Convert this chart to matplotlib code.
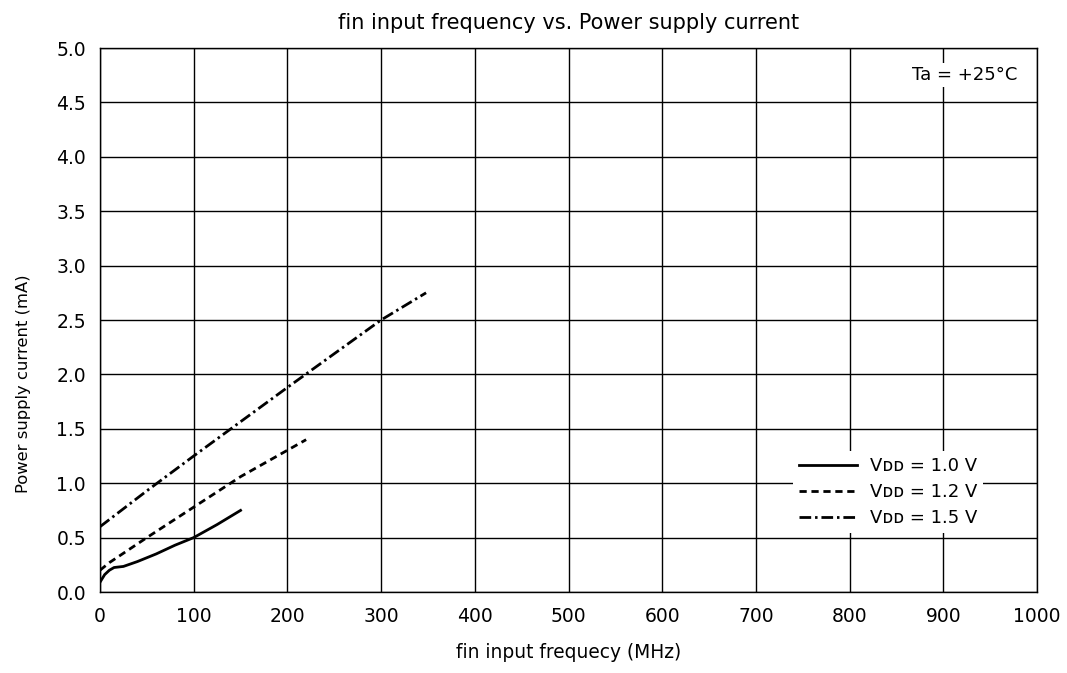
import matplotlib
matplotlib.use("Agg")
import matplotlib.pyplot as plt

plt.rcParams['font.family'] = ['DejaVu Sans']

# Data
f_10 = [0, 5, 10, 15, 25, 40, 60, 80, 100, 125, 150]
i_10 = [0.09, 0.16, 0.20, 0.225, 0.235, 0.28, 0.35, 0.43, 0.50, 0.62, 0.75]
f_12 = [0, 10, 50, 100, 150, 220]
i_12 = [0.20, 0.27, 0.50, 0.78, 1.06, 1.40]
f_15 = [0, 50, 100, 200, 300, 348]
i_15 = [0.60, 0.93, 1.25, 1.88, 2.50, 2.75]
labels = ['V\u1d05\u1d05 = 1.0 V', 'V\u1d05\u1d05 = 1.2 V', 'V\u1d05\u1d05 = 1.5 V']
xticks = list(range(0, 1001, 100))
yticks = [0.0, 0.5, 1.0, 1.5, 2.0, 2.5, 3.0, 3.5, 4.0, 4.5, 5.0]

fig = plt.figure(figsize=(10.67, 6.73), dpi=100)
ax = fig.add_axes([100 / 1067, 81 / 673, 937 / 1067, 544 / 673])

ax.plot(f_10, i_10, color='black', lw=2.0, label=labels[0])
ax.plot(f_12, i_12, color='black', lw=2.0, dashes=(2.6, 1.7), label=labels[1])
ax.plot(f_15, i_15, color='black', lw=2.0, dashes=(4.2, 1.4, 0.9, 1.4), label=labels[2])

ax.set_xlim(0, 1000)
ax.set_ylim(0, 5)
ax.set_xticks(xticks)
ax.set_yticks(yticks)
ax.set_yticklabels([f'{v:.1f}' for v in yticks])
ax.tick_params(length=0, labelsize=13.5)
ax.tick_params(axis='x', pad=11)
ax.tick_params(axis='y', pad=10)
ax.grid(True, color='black', lw=1.0)
ax.set_axisbelow(True)
for s in ax.spines.values():
    s.set_linewidth(1.0)

ax.set_title('fin input frequency vs. Power supply current', fontsize=15, pad=14)
ax.set_xlabel('fin input frequecy (MHz)', fontsize=13.4, labelpad=12)
ax.set_ylabel('Power supply current (mA)', fontsize=11.8, labelpad=18, y=0.383)

ax.text(0.9787, 0.941, 'Ta = +25°C', transform=ax.transAxes, ha='right', va='baseline',
        fontsize=13, bbox=dict(facecolor='white', edgecolor='none', pad=2))

leg = ax.legend(loc='center right', bbox_to_anchor=(0.9423, 0.1838), fontsize=13,
                frameon=True, fancybox=False, handlelength=3.2, labelspacing=0.45,
                borderpad=0.3, borderaxespad=0, handletextpad=0.75)
leg.get_frame().set_facecolor('white')
leg.get_frame().set_edgecolor('none')
leg.get_frame().set_alpha(1)

fig.savefig('out.png', dpi=100)
